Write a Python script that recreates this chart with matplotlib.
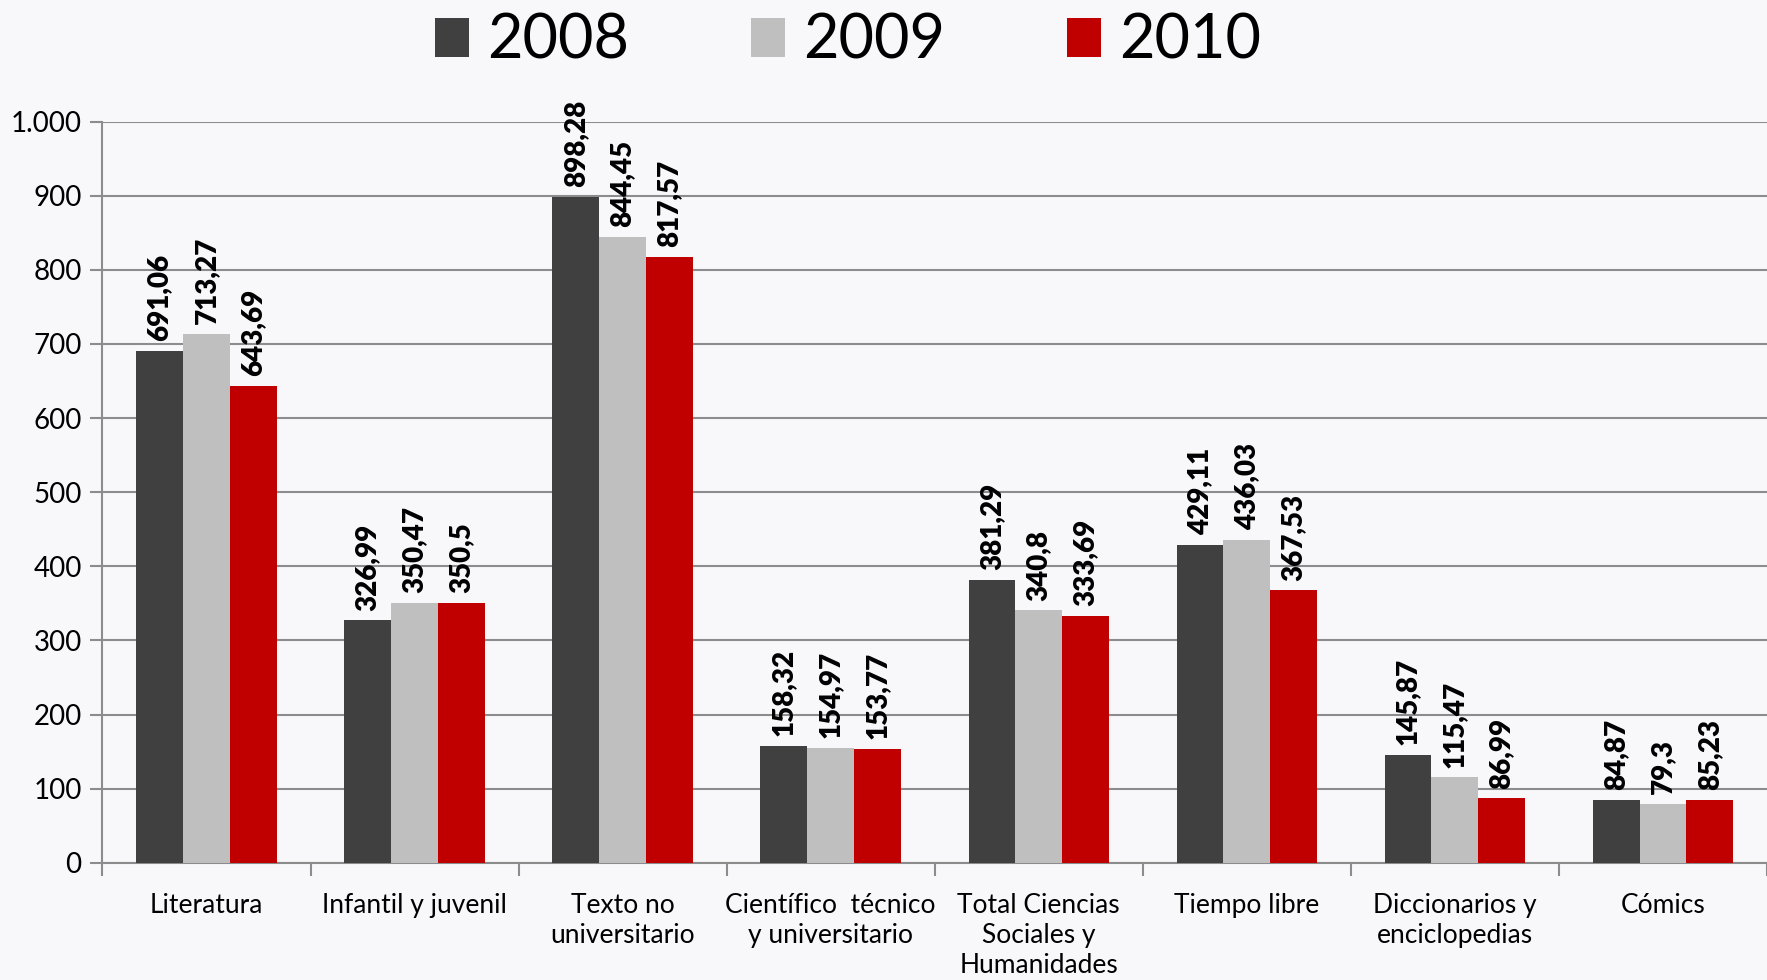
import numpy as np
import matplotlib
matplotlib.use("Agg")
import matplotlib.pyplot as plt
from matplotlib.ticker import FuncFormatter

plt.rcParams['font.family'] = ['Lato', 'DejaVu Sans']

# --- Data ---
categories = ["Literatura", "Infantil y juvenil", "Texto no\nuniversitario",
              "Científico  técnico\ny universitario", "Total Ciencias\nSociales y\nHumanidades",
              "Tiempo libre", "Diccionarios y\nenciclopedias", "Cómics"]
years = ["2008", "2009", "2010"]
v2008 = [691.06, 326.99, 898.28, 158.32, 381.29, 429.11, 145.87, 84.87]
v2009 = [713.27, 350.47, 844.45, 154.97, 340.8, 436.03, 115.47, 79.3]
v2010 = [643.69, 350.5, 817.57, 153.77, 333.69, 367.53, 86.99, 85.23]
colors = ["#404040", "#bfbfbf", "#c00000"]

fig = plt.figure(figsize=(17.67, 9.8), dpi=100)
fig.patch.set_facecolor("#f8f8fa")
ax = fig.add_axes([0.058, 0.1195, 0.942, 0.7565])
ax.set_facecolor("none")

x = np.arange(len(categories))
w = 0.225
grid_c = "#8c8c8c"

for i, (vals, col, yr) in enumerate(zip([v2008, v2009, v2010], colors, years)):
    pos = x + (i - 1) * w
    ax.bar(pos, vals, width=w, color=col, label=yr, zorder=3)
    for px, v in zip(pos, vals):
        txt = f"{v:g}".replace(".", ",")
        ax.annotate(txt, (px, v), xytext=(0, 7), textcoords="offset points",
                    rotation=90, ha="center", va="bottom", fontsize=20,
                    fontweight="heavy", color="black", zorder=4)

ax.set_ylim(0, 1000)
ax.set_xlim(-0.5, len(categories) - 0.5)
ax.set_yticks(np.arange(0, 1001, 100))
ax.yaxis.set_major_formatter(FuncFormatter(lambda v, p: f"{int(v):,}".replace(",", ".")))
ax.yaxis.grid(True, color=grid_c, linewidth=1.5, zorder=1)
ax.tick_params(axis="y", labelsize=20, length=9, width=1.5, color=grid_c, pad=6)

ax.set_xticks(np.arange(-0.5, len(categories)), labels=[])
ax.set_xticks(x, labels=categories, minor=True)
ax.tick_params(axis="x", which="major", length=9, width=1.5, color=grid_c)
ax.tick_params(axis="x", which="minor", length=0, labelsize=19, pad=22)
for lbl in ax.get_xticklabels(minor=True):
    lbl.set_linespacing(1.25)

for s in ["top", "right"]:
    ax.spines[s].set_visible(False)
for s in ["left", "bottom"]:
    ax.spines[s].set_color(grid_c)
    ax.spines[s].set_linewidth(1.5)

fig.legend(loc="center", bbox_to_anchor=(0.48, 0.958), ncol=3, fontsize=44,
           frameon=False, handlelength=0.55, handleheight=0.6, handletextpad=0.3,
           columnspacing=2.0, borderpad=0)

fig.savefig("out.png", dpi=100, facecolor=fig.get_facecolor())
